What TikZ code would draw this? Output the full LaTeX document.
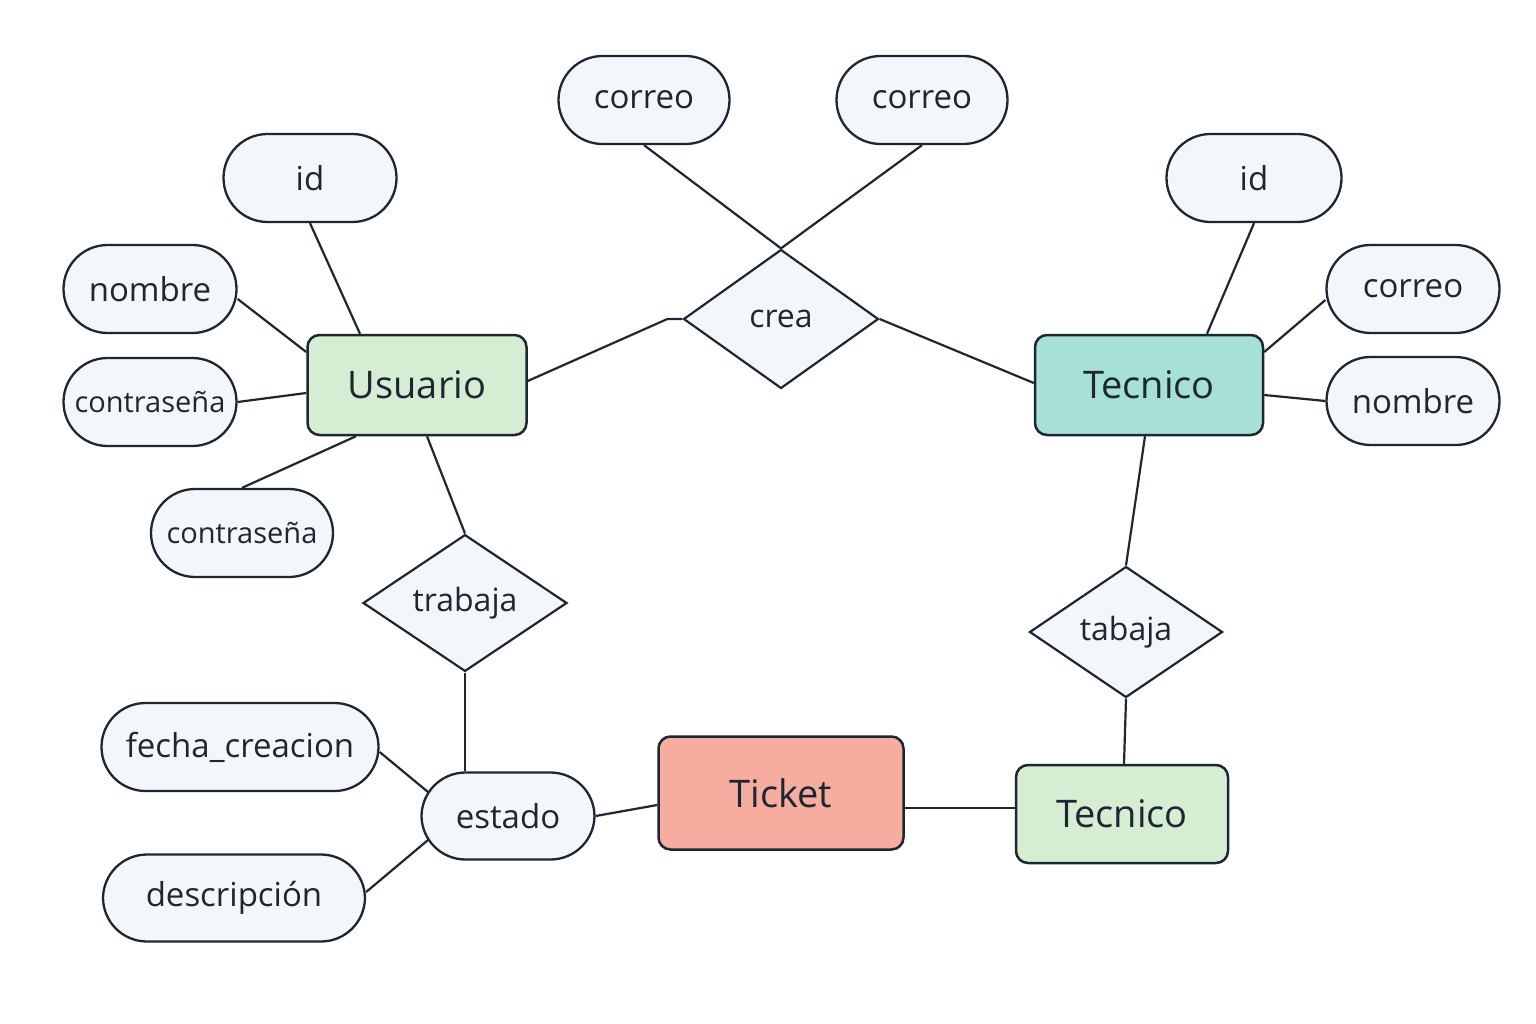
\documentclass[tikz,border=0pt]{standalone}
\usepackage{fontspec}
\setmainfont{Open Sans}
\usetikzlibrary{shapes.geometric,backgrounds}
\definecolor{ink}{HTML}{1D2733}
\definecolor{attrfill}{HTML}{F4F7FA}
\definecolor{usrfill}{HTML}{D6EDD4}
\definecolor{tecfill}{HTML}{A6E0D7}
\definecolor{tikfill}{HTML}{F7ACA0}
\tikzset{
  attr/.style={draw=ink, line width=2.3pt, fill=attrfill, rectangle, rounded corners=44pt,
    minimum width=173pt, minimum height=88pt, inner sep=0pt, text=ink,
    font=\fontsize{33}{38}\selectfont},
  ent/.style={draw=ink, line width=2.5pt, rectangle, rounded corners=12pt,
    inner sep=0pt, text=ink, font=\fontsize{38}{44}\selectfont},
  rel/.style={draw=ink, line width=2.2pt, fill=attrfill, diamond, inner sep=0pt,
    text=ink, font=\fontsize{32}{37}\selectfont},
  conn/.style={draw=ink, line width=2.2pt}
}
\begin{document}
\begin{tikzpicture}[x=1pt,y=-1pt]
\useasboundingbox (0,0) rectangle (1536,1024);
% entities
\node[ent, fill=usrfill, minimum width=219pt, minimum height=100pt] (usr) at (417,385) {Usuario};
\node[ent, fill=tecfill, minimum width=228pt, minimum height=100pt] (tec1) at (1149,385) {Tecnico};
\node[ent, fill=tikfill, minimum width=245pt, minimum height=113pt] (tik) at (781,793) {Ticket};
\node[ent, fill=usrfill, minimum width=212pt, minimum height=98pt] (tec2) at (1122,814) {Tecnico};
% relationships
\node[rel, minimum width=195pt, minimum height=139pt] (crea) at (781,319) {crea};
\node[rel, minimum width=204pt, minimum height=134pt] (tra) at (465,603) {trabaja};
\node[rel, minimum width=193pt, minimum height=131pt] (tab) at (1126,632) {tabaja};
% attributes
\node[attr] (id1) at (310,178) {id};
\node[attr] (nom1) at (150,289) {nombre};
\node[attr, font=\fontsize{29}{34}\selectfont] (con1) at (150,402) {contraseña};
\node[attr, minimum width=182pt, font=\fontsize{29}{34}\selectfont] (con2) at (242,533) {contraseña};
\node[attr, minimum width=171pt] (cor1) at (644,100) {correo};
\node[attr, minimum width=171pt] (cor2) at (922,100) {correo};
\node[attr, minimum width=175pt] (id2) at (1254,178) {id};
\node[attr] (cor3) at (1413,289) {correo};
\node[attr] (nom2) at (1413,401) {nombre};
\node[attr, minimum width=277pt] (fec) at (240,747) {fecha\_creacion};
\node[attr, minimum height=87pt] (est) at (508,816) {estado};
\node[attr, minimum width=262pt, minimum height=87pt] (des) at (234,898) {descripción};
\begin{pgfonlayer}{background}
\fill[white] (0,0) rectangle (1536,1024);
\draw[conn] (id1.south) -- ([xshift=-57pt]usr.north);
\draw[conn] ([yshift=-10pt]nom1.east) -- ([yshift=33pt]usr.west);
\draw[conn] (con1.east) -- ([yshift=-8pt]usr.west);
\draw[conn] (con2.north) -- ([xshift=-61pt]usr.south);
\draw[conn] ([yshift=4pt]usr.east) -- ([xshift=-15pt]crea.west) -- (crea.west);
\draw[conn] (cor1.south) -- (crea.north);
\draw[conn] (cor2.south) -- (crea.north);
\draw[conn] (crea.east) -- ([yshift=2pt]tec1.west);
\draw[conn] (id2.south) -- ([xshift=58pt]tec1.north);
\draw[conn] ([yshift=-11pt]cor3.west) -- ([yshift=33pt]tec1.east);
\draw[conn] (nom2.west) -- ([yshift=-10pt]tec1.east);
\draw[conn] ([xshift=-4pt]tec1.south) -- (tab.north);
\draw[conn] (tab.south) -- ([xshift=2pt]tec2.north);
\draw[conn] ([yshift=-15pt]tik.east) -- ([yshift=6pt]tec2.west);
\draw[conn] ([yshift=-12pt]tik.west) -- (est.east);
\draw[conn] ([xshift=10pt]usr.south) -- (tra.north);
\draw[conn] (tra.south) -- ([xshift=-43pt]est.north);
\draw[conn] ([yshift=-5pt]fec.east) -- ([shift={(-80pt,24pt)}]est.center);
\draw[conn] ([yshift=6pt]des.east) -- ([shift={(-80pt,-24pt)}]est.center);
\end{pgfonlayer}
\end{tikzpicture}
\end{document}
